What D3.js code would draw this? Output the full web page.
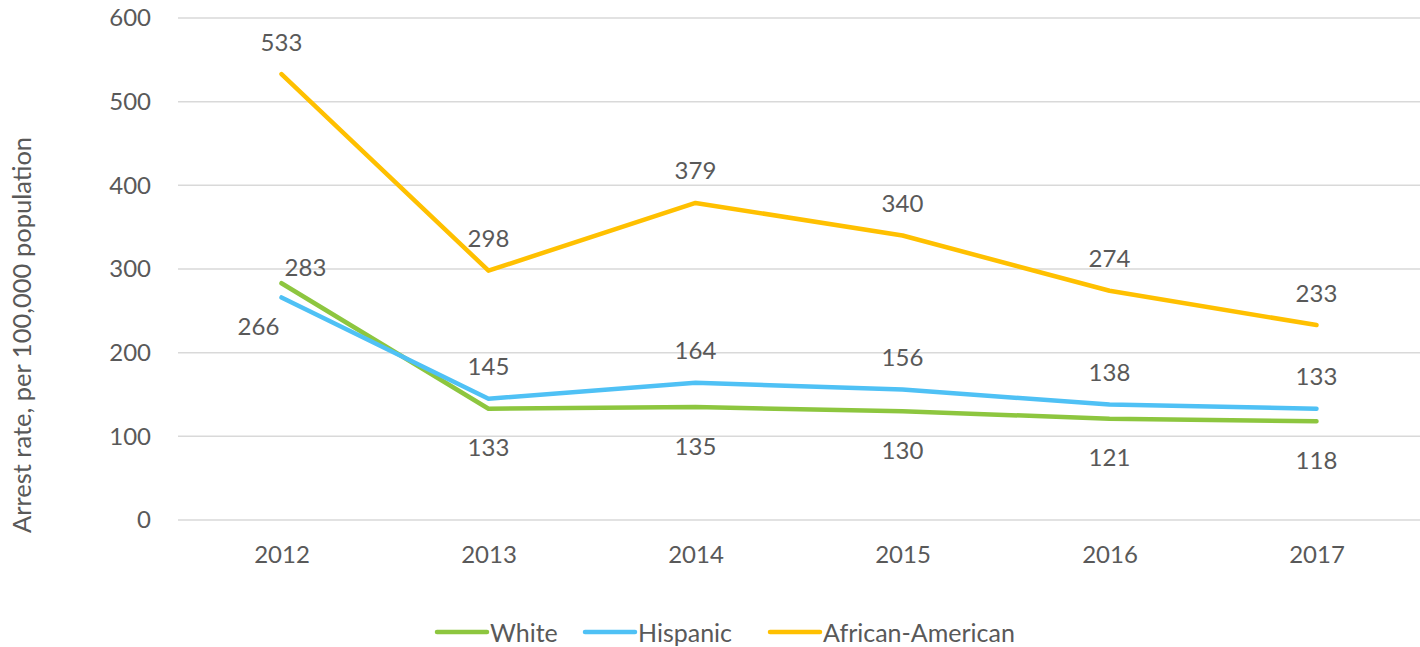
<!DOCTYPE html>
<html>
<head>
<meta charset="utf-8">
<script src="https://cdn.jsdelivr.net/npm/d3@7"></script>
<style>
  body { margin: 0; background: #fff; }
  svg text { font-family: Lato, "Open Sans", sans-serif; fill: #595959; }
</style>
</head>
<body>
<div id="chart"></div>
<script>
// data
var years = ["2012", "2013", "2014", "2015", "2016", "2017"];
var white = [283, 133, 135, 130, 121, 118];
var hispanic = [266, 145, 164, 156, 138, 133];
var african = [533, 298, 379, 340, 274, 233];
var yTicks = [0, 100, 200, 300, 400, 500, 600];

var series = [
  {name: "White", values: white, color: "#8dc63f"},
  {name: "Hispanic", values: hispanic, color: "#4fc1f5"},
  {name: "African-American", values: african, color: "#ffc000"}
];

var width = 1420, height = 647;
var margin = {top: 18, right: 0, bottom: 127, left: 178};

var svg = d3.select("#chart").append("svg")
    .attr("width", width)
    .attr("height", height);

var x = d3.scalePoint()
    .domain(years)
    .range([margin.left, width - margin.right])
    .padding(0.5);

var y = d3.scaleLinear()
    .domain([0, 600])
    .range([height - margin.bottom, margin.top]);

// gridlines
svg.append("g")
  .selectAll("line")
  .data(yTicks)
  .enter().append("line")
    .attr("x1", margin.left)
    .attr("x2", width - margin.right)
    .attr("y1", function(d) { return y(d); })
    .attr("y2", function(d) { return y(d); })
    .attr("stroke", "#d9d9d9")
    .attr("stroke-width", 1.5);

// y axis
var yAxis = svg.append("g")
    .attr("transform", "translate(" + margin.left + ",0)")
    .call(d3.axisLeft(y).tickValues(yTicks).tickSize(0).tickPadding(27));
yAxis.select(".domain").remove();
yAxis.selectAll("text").style("font-size", "24px");

// x axis
var xAxis = svg.append("g")
    .attr("transform", "translate(0," + (height - margin.bottom) + ")")
    .call(d3.axisBottom(x).tickSize(0).tickPadding(26));
xAxis.select(".domain").remove();
xAxis.selectAll("text").style("font-size", "24px");

// y title
svg.append("text")
    .attr("transform", "translate(31,335) rotate(-90)")
    .attr("text-anchor", "middle")
    .style("font-size", "25.5px")
    .text("Arrest rate, per 100,000 population");

var line = d3.line()
    .x(function(d, i) { return x(years[i]); })
    .y(function(d) { return y(d); });

series.forEach(function(s) {
  svg.append("path")
      .datum(s.values)
      .attr("fill", "none")
      .attr("stroke", s.color)
      .attr("stroke-width", 4.5)
      .attr("stroke-linejoin", "round")
      .attr("stroke-linecap", "round")
      .attr("d", line);
});

// data labels
function labelPos(name, i) {
  if (name == "African-American") return {dx: 0, dy: -33};
  if (name == "White") return i == 0 ? {dx: 24, dy: -17} : {dx: 0, dy: 38};
  return i == 0 ? {dx: -23, dy: 28} : {dx: 0, dy: -33};
}

series.forEach(function(s) {
  svg.append("g")
    .selectAll("text")
    .data(s.values)
    .enter().append("text")
      .attr("x", function(d, i) { return x(years[i]) + labelPos(s.name, i).dx; })
      .attr("y", function(d, i) { return y(d) + labelPos(s.name, i).dy; })
      .attr("text-anchor", "middle")
      .attr("dominant-baseline", "central")
      .style("font-size", "24px")
      .text(function(d) { return d; });
});

// legend
var legendX = [437, 585, 770];
var legend = svg.append("g");
series.forEach(function(s, i) {
  legend.append("line")
      .attr("x1", legendX[i])
      .attr("x2", legendX[i] + 50)
      .attr("y1", 632)
      .attr("y2", 632)
      .attr("stroke", s.color)
      .attr("stroke-width", 4.5)
      .attr("stroke-linecap", "round");
  legend.append("text")
      .attr("x", legendX[i] + 53)
      .attr("y", 632)
      .attr("dominant-baseline", "central")
      .style("font-size", "25px")
      .text(s.name);
});
</script>
</body>
</html>
